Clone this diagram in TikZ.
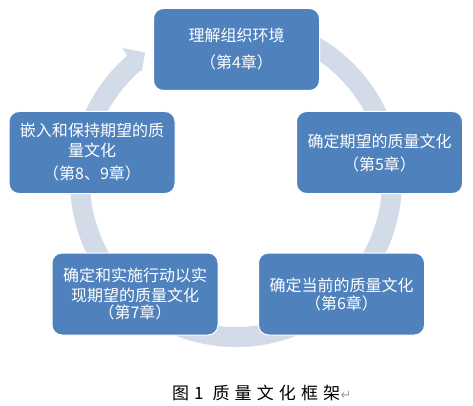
\documentclass[tikz,border=0pt]{standalone}
\usepackage{fontspec}
\usetikzlibrary{calc}
\newfontfamily\cjk{Noto Sans CJK SC}
\newfontfamily\capfont[LetterSpace=30]{Noto Sans CJK SC}
\newfontfamily\dejavu{DejaVu Sans}
\definecolor{ringc}{HTML}{D3DAE8}
\definecolor{boxc}{HTML}{4F81BD}
\definecolor{markc}{HTML}{A0A0A0}
\tikzset{
  stagebox/.style={draw=white, line width=1pt, fill=boxc, rounded corners=10pt,
    minimum width=166pt, minimum height=82pt, inner sep=0pt, text=white,
    align=center, text width=160pt},
}
\begin{document}
\begin{tikzpicture}[x=1pt,y=1pt]
\useasboundingbox (0,0) rectangle (473,405);
\fill[white] (0,0) rectangle (473,405);
\coordinate (c) at (236,224);
\fill[ringc] ($(c)+(80:166)$) arc[start angle=80,end angle=-229,radius=166]
  -- ($(c)+(-229.5:175)$) -- ($(c)+(-234.7:157.3)$) -- ($(c)+(-229.5:145)$)
  -- ($(c)+(-229:146)$) arc[start angle=-229,end angle=80,radius=146] -- cycle;
\node[stagebox, font=\cjk\fontsize{16}{27}\selectfont] (s4) at (236.5,355.5) {理解组织环境\\（第4章）};
\node[stagebox, font=\cjk\fontsize{16}{23}\selectfont] (s5) at (379.5,252.5) {确定期望的质量文化\\（第5章）};
\node[stagebox, font=\cjk\fontsize{16}{20}\selectfont] (s6) at (341.5,111) {确定当前的质量文化\\[-2pt]（第6章）};
\node[stagebox, font=\cjk\fontsize{16}{20}\selectfont] (s7) at (135,111) {确定和实施行动以实\\现期望的质量文化\\[-3pt]（第7章）};
\node[stagebox, font=\cjk\fontsize{16}{20}\selectfont] (s8) at (92,252.5) {嵌入和保持期望的质\\量文化\\[3pt]（第8、9章）};
\node[anchor=base west, inner sep=0pt, font=\fontsize{17}{19}\selectfont] (cap) at (172,6) {{\cjk 图}\hspace{5pt}{\cjk 1}\hspace{9pt}{\capfont 质量文化框架}};
\node[anchor=base west, inner sep=0pt, text=markc, font=\dejavu\fontsize{13}{15}\selectfont] (mark) at (cap.base east) {↵};
\end{tikzpicture}
\end{document}
